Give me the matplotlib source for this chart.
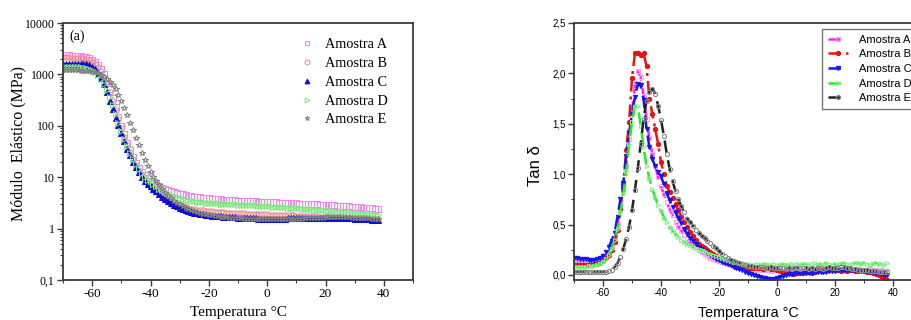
import numpy as np
import matplotlib
matplotlib.use("Agg")
import matplotlib.pyplot as plt
from matplotlib.ticker import FixedLocator, MultipleLocator, LogLocator, NullFormatter

# ---------------- data ----------------
temps = list(range(-70, 39))  # measured temperatures (°C), 1 °C step

# Left panel: elastic modulus (MPa)
mod_A = [2350, 2350, 2340, 2330, 2310, 2290, 2260, 2220,
         2150, 2050, 1900, 1720, 1500, 1250, 1000, 740, 520, 350, 230, 150, 100, 68, 47, 34, 25, 19, 15, 12.5,
         10.8, 9.5, 8.5, 7.8, 7.2, 6.7, 6.3, 5.9, 5.6, 5.35, 5.15, 4.95, 4.8, 4.65, 4.5, 4.4, 4.3, 4.2, 4.12,
         4.05, 3.98, 3.92, 3.87,
         3.82, 3.78, 3.74, 3.7, 3.67, 3.64, 3.61, 3.58, 3.55, 3.52,
         3.49, 3.46, 3.44, 3.41, 3.39, 3.37, 3.35, 3.33, 3.31, 3.29,
         3.27, 3.25, 3.23, 3.21, 3.19, 3.17, 3.15, 3.13, 3.11, 3.09,
         3.07, 3.05, 3.03, 3.01, 2.99, 2.97, 2.95, 2.93, 2.91, 2.89,
         2.87, 2.85, 2.83, 2.81, 2.79, 2.77, 2.74, 2.71, 2.68, 2.65,
         2.62, 2.59, 2.56, 2.53, 2.5, 2.48, 2.46, 2.44]
mod_B = [2150, 2150, 2140, 2130, 2110, 2090, 2060, 2020,
         1970, 1900, 1780, 1620, 1400, 1150, 900, 660, 460, 310, 205, 135, 90, 61, 43, 31, 23, 17.5, 13.5, 10.8,
         9.0, 7.7, 6.7, 5.9, 5.2, 4.7, 4.3, 3.9, 3.6, 3.35, 3.15, 2.98, 2.84, 2.72, 2.62, 2.53, 2.46, 2.4, 2.35,
         2.3, 2.26, 2.22, 2.19,
         2.16, 2.13, 2.11, 2.09, 2.07, 2.05, 2.03, 2.02, 2.0, 1.99,
         1.98, 1.97, 1.96, 1.95, 1.94, 1.93, 1.92, 1.91, 1.9, 1.89,
         1.88, 1.87, 1.86, 1.85, 1.84, 1.83, 1.82, 1.81, 1.8, 1.79,
         1.78, 1.77, 1.76, 1.75, 1.74, 1.73, 1.72, 1.71, 1.7, 1.69,
         1.68, 1.67, 1.66, 1.65, 1.64, 1.63, 1.62, 1.61, 1.6, 1.59,
         1.58, 1.57, 1.56, 1.55, 1.54, 1.53, 1.52, 1.51]
mod_C = [1600, 1610, 1620, 1620, 1620, 1610, 1600, 1590,
         1560, 1500, 1400, 1250, 1060, 860, 650, 460, 310, 215, 145, 102, 72, 50, 36, 27, 20, 15.5, 12.5, 10.2,
         8.6, 7.5, 6.6, 5.9, 5.3, 4.7, 4.2, 3.8, 3.4, 3.1, 2.9, 2.7, 2.55, 2.4, 2.3, 2.2, 2.12, 2.05, 2.0,
         1.95, 1.9, 1.86, 1.82,
         1.79, 1.76, 1.74, 1.72, 1.7, 1.68, 1.67, 1.66, 1.65, 1.64,
         1.63, 1.62, 1.61, 1.6, 1.59, 1.58, 1.57, 1.57, 1.56, 1.56,
         1.56, 1.56, 1.56, 1.57, 1.57, 1.57, 1.58, 1.58, 1.58, 1.59,
         1.59, 1.6, 1.6, 1.61, 1.61, 1.62, 1.62, 1.63, 1.63, 1.63,
         1.63, 1.63, 1.62, 1.62, 1.61, 1.61, 1.6, 1.59, 1.58, 1.57,
         1.56, 1.55, 1.54, 1.53, 1.52, 1.5, 1.48, 1.46]
mod_D = [1400, 1400, 1400, 1400, 1390, 1380, 1370, 1350,
         1320, 1270, 1200, 1100, 970, 820, 660, 500, 360, 250, 170, 115, 80, 56, 40, 30, 23, 18, 14.5, 12,
         10.2, 8.9, 8.3, 7.4, 6.6, 6.0, 5.6, 5.2, 4.85, 4.55, 4.3, 4.08, 3.9, 3.76, 3.64, 3.54, 3.45, 3.38, 3.32,
         3.27, 3.23, 3.2, 3.17,
         3.14, 3.11, 3.09, 3.06, 3.04, 3.02, 3.0, 2.98, 2.96, 2.94,
         2.92, 2.9, 2.88, 2.86, 2.84, 2.82, 2.8, 2.78, 2.76, 2.74,
         2.72, 2.69, 2.67, 2.64, 2.62, 2.59, 2.57, 2.54, 2.52, 2.49,
         2.47, 2.44, 2.42, 2.39, 2.37, 2.34, 2.32, 2.29, 2.27, 2.24,
         2.22, 2.19, 2.17, 2.14, 2.12, 2.09, 2.07, 2.04, 2.02, 2.0,
         1.98, 1.96, 1.94, 1.92, 1.9, 1.88, 1.86, 1.84]
mod_E = [1200, 1200, 1200, 1200, 1200, 1200, 1190, 1180,
         1170, 1150, 1130, 1100, 1060, 990, 910, 820, 720, 620, 510, 400, 300, 220, 160, 115, 82, 58, 42, 30,
         22, 16.5, 12.8, 10.2, 8.3, 6.9, 5.8, 5.0, 4.4, 3.9, 3.5, 3.2, 2.95, 2.75, 2.57, 2.42, 2.3, 2.2, 2.1,
         2.02, 1.95, 1.89, 1.84,
         1.8, 1.76, 1.73, 1.7, 1.68, 1.66, 1.64, 1.62, 1.6, 1.59,
         1.58, 1.57, 1.56, 1.55, 1.55, 1.54, 1.54, 1.53, 1.53, 1.53,
         1.53, 1.53, 1.53, 1.53, 1.54, 1.54, 1.54, 1.55, 1.55, 1.56,
         1.56, 1.57, 1.58, 1.59, 1.6, 1.61, 1.62, 1.63, 1.64, 1.65,
         1.66, 1.66, 1.67, 1.67, 1.67, 1.66, 1.66, 1.65, 1.64, 1.63,
         1.62, 1.61, 1.6, 1.59, 1.58, 1.57, 1.56, 1.55]

# Right panel: tan delta
tan_A = [0.13, 0.13, 0.12, 0.12, 0.12, 0.12, 0.12, 0.12,
         0.13, 0.14, 0.16, 0.19, 0.23, 0.29, 0.38, 0.5, 0.66, 0.85, 1.08, 1.35, 1.62, 1.87, 2.02, 1.96, 1.78, 1.55,
         1.36, 1.2, 1.08, 0.97, 0.88, 0.8, 0.72, 0.65, 0.59, 0.53, 0.48, 0.44, 0.4, 0.36, 0.33, 0.3, 0.28,
         0.25, 0.23, 0.21, 0.19, 0.17, 0.16, 0.15, 0.14, 0.13, 0.12, 0.11, 0.1, 0.09, 0.08, 0.08, 0.07, 0.07, 0.06,
         0.06, 0.06, 0.05, 0.05, 0.05, 0.05, 0.05, 0.04, 0.05, 0.05,
         0.05, 0.04, 0.05, 0.05, 0.04, 0.05, 0.05, 0.04, 0.05, 0.05,
         0.05, 0.04, 0.05, 0.06, 0.05, 0.05, 0.06, 0.05, 0.05, 0.06,
         0.06, 0.05, 0.05, 0.06, 0.06, 0.05, 0.06, 0.06, 0.05, 0.05,
         0.05, 0.06, 0.05, 0.05, 0.04, 0.05, 0.04, 0.04]
tan_B = [0.1, 0.1, 0.1, 0.1, 0.1, 0.1, 0.1, 0.11,
         0.11, 0.12, 0.14, 0.17, 0.2, 0.25, 0.33, 0.45, 0.65, 0.9, 1.24, 1.52, 1.95, 2.2, 2.2, 2.18, 2.2, 2.07,
         1.75, 1.6, 1.45, 1.3, 1.12, 1.0, 0.88, 0.82, 0.76, 0.7, 0.64, 0.58, 0.53, 0.48, 0.43, 0.39, 0.35,
         0.31, 0.29, 0.27, 0.25, 0.23, 0.21, 0.19, 0.17, 0.15, 0.13, 0.12, 0.11, 0.1, 0.09, 0.08, 0.08, 0.08, 0.07,
         0.07, 0.07, 0.07, 0.07, 0.06, 0.07, 0.07, 0.06, 0.06, 0.05,
         0.04, 0.03, 0.02, 0.02, 0.01, 0.01, 0.02, 0.02, 0.02, 0.03,
         0.03, 0.02, 0.03, 0.05, 0.05, 0.04, 0.05, 0.05, 0.06, 0.05,
         0.05, 0.04, 0.05, 0.04, 0.05, 0.05, 0.04, 0.04, 0.05, 0.04,
         0.03, 0.03, 0.02, 0.01, 0.0, -0.01, -0.03, -0.05]
tan_C = [0.17, 0.17, 0.16, 0.16, 0.16, 0.15, 0.15, 0.15,
         0.16, 0.17, 0.19, 0.23, 0.28, 0.34, 0.42, 0.58, 0.75, 0.91, 1.18, 1.41, 1.6, 1.77, 1.89, 1.88, 1.74, 1.45,
         1.27, 1.15, 1.08, 1.02, 0.98, 0.9, 0.81, 0.74, 0.67, 0.62, 0.57, 0.52, 0.46, 0.41, 0.37, 0.34, 0.31,
         0.28, 0.26, 0.24, 0.22, 0.2, 0.18, 0.16, 0.15, 0.13, 0.12, 0.11, 0.1, 0.08, 0.07, 0.06, 0.05, 0.03, 0.02,
         0.01, 0.0, -0.01, -0.02, -0.03, -0.03, -0.04, -0.04, -0.04, -0.03,
         -0.02, -0.01, 0.0, 0.01, 0.01, 0.02, 0.02, 0.02, 0.02, 0.02,
         0.02, 0.02, 0.03, 0.03, 0.03, 0.03, 0.03, 0.04, 0.04, 0.04,
         0.05, 0.05, 0.05, 0.05, 0.05, 0.05, 0.05, 0.04, 0.04, 0.04,
         0.04, 0.03, 0.03, 0.02, 0.02, 0.01, 0.0, 0.0]
tan_D = [0.08, 0.08, 0.08, 0.08, 0.08, 0.09, 0.09, 0.09,
         0.1, 0.11, 0.13, 0.16, 0.2, 0.26, 0.35, 0.46, 0.62, 0.8, 1.03, 1.3, 1.52, 1.67, 1.68, 1.48, 1.27, 1.08,
         0.96, 0.85, 0.77, 0.69, 0.64, 0.57, 0.53, 0.48, 0.44, 0.41, 0.38, 0.35, 0.33, 0.31, 0.3, 0.28, 0.27,
         0.26, 0.25, 0.24, 0.22, 0.21, 0.2, 0.19, 0.18, 0.17, 0.16, 0.15, 0.14, 0.13, 0.13, 0.12, 0.12, 0.11, 0.11,
         0.1, 0.1, 0.11, 0.1, 0.1, 0.11, 0.1, 0.1, 0.11, 0.1,
         0.1, 0.11, 0.1, 0.1, 0.11, 0.1, 0.11, 0.1, 0.11, 0.11,
         0.1, 0.11, 0.12, 0.1, 0.11, 0.1, 0.12, 0.11, 0.1, 0.11,
         0.1, 0.11, 0.12, 0.11, 0.1, 0.11, 0.12, 0.12, 0.11, 0.12,
         0.11, 0.1, 0.11, 0.12, 0.11, 0.11, 0.1, 0.12]
tan_E = [0.03, 0.03, 0.03, 0.03, 0.03, 0.03, 0.03, 0.03,
         0.03, 0.03, 0.03, 0.03, 0.04, 0.05, 0.08, 0.12, 0.18, 0.26, 0.36, 0.48, 0.64, 0.84, 1.06, 1.3, 1.55, 1.73,
         1.82, 1.85, 1.8, 1.68, 1.54, 1.38, 1.2, 1.05, 0.93, 0.83, 0.75, 0.68, 0.62, 0.56, 0.53, 0.49, 0.45,
         0.42, 0.39, 0.37, 0.34, 0.32, 0.29, 0.27, 0.24, 0.21, 0.19, 0.17, 0.15, 0.14, 0.13, 0.12, 0.11, 0.1, 0.09,
         0.09, 0.08, 0.08, 0.08, 0.08, 0.07, 0.07, 0.08, 0.07, 0.07,
         0.07, 0.07, 0.06, 0.07, 0.06, 0.07, 0.07, 0.06, 0.07, 0.07,
         0.06, 0.07, 0.06, 0.07, 0.07, 0.06, 0.07, 0.08, 0.07, 0.07,
         0.07, 0.08, 0.08, 0.07, 0.07, 0.06, 0.06, 0.05, 0.05, 0.05,
         0.05, 0.04, 0.04, 0.04, 0.03, 0.03, 0.03, 0.03]

labels = ["Amostra A", "Amostra B", "Amostra C", "Amostra D", "Amostra E"]
x_ticks = [-60, -40, -20, 0, 20, 40]
mod_ticks = [0.1, 1, 10, 100, 1000, 10000]
mod_ticklabels = ["0,1", "1", "10", "100", "1000", "10000"]
tan_ticks = [0.0, 0.5, 1.0, 1.5, 2.0, 2.5]
tan_ticklabels = ["0,0", "0,5", "1,0", "1,5", "2,0", "2,5"]

# ---------------- figure ----------------
W, H = 911, 320
fig = plt.figure(figsize=(W / 100, H / 100), dpi=100)
spine_col = "#3a3a3a"

# ---- left panel ----
axL = fig.add_axes([63 / W, 40 / H, 350 / W, 257 / H])
serif = ["Liberation Serif", "DejaVu Serif"]
left_styles = [
    dict(marker="s", mfc="none", mec="#ee88ee"),
    dict(marker="o", mfc="none", mec="#f08a8a"),
    dict(marker="^", mfc="#1010cc", mec="#1010cc"),
    dict(marker=">", mfc="none", mec="#7fe87f"),
    dict(marker="*", mfc="none", mec="#808080"),
]
for ys, lab, st in zip([mod_A, mod_B, mod_C, mod_D, mod_E], labels, left_styles):
    axL.plot(temps, ys, linestyle="none", markersize=3.8, markeredgewidth=0.75, label=lab, **st)
axL.set_yscale("log")
axL.set_xlim(-70, 50)
axL.set_ylim(0.1, 10000)
axL.yaxis.set_major_locator(FixedLocator(mod_ticks))
axL.set_yticklabels(mod_ticklabels, fontfamily=serif, fontsize=8.5)
axL.yaxis.set_minor_locator(LogLocator(base=10, subs=np.arange(2, 10)))
axL.yaxis.set_minor_formatter(NullFormatter())
axL.xaxis.set_major_locator(FixedLocator(x_ticks))
axL.set_xticklabels([str(v) for v in x_ticks], fontfamily=serif, fontsize=9.5)
axL.xaxis.set_minor_locator(MultipleLocator(10))
axL.tick_params(which="major", direction="out", length=4, width=1, color=spine_col, pad=2)
axL.tick_params(which="minor", direction="out", length=2.2, width=0.8, color=spine_col)
for s in axL.spines.values():
    s.set_color(spine_col)
    s.set_linewidth(1.3)
axL.set_xlabel("Temperatura °C", fontfamily=serif, fontsize=11)
axL.xaxis.set_label_coords(0.5, -0.1)
axL.set_ylabel("Módulo  Elástico (MPa)", fontfamily=serif, fontsize=11.5)
axL.yaxis.set_label_coords(-0.106, 0.53)
axL.text(-67.8, 5400, "(a)", fontfamily=serif, fontsize=10, va="center", ha="left")
legL = axL.legend(loc="upper left", bbox_to_anchor=(0.676, 0.94), frameon=False,
                  prop=dict(family=serif, size=10.3), handlelength=1.0, handletextpad=0.8,
                  labelspacing=0.4, borderpad=0, borderaxespad=0, numpoints=1, markerscale=0.9)

# ---- right panel ----
axR = fig.add_axes([574 / W, 40 / H, 348 / W, 257 / H])
sans = ["Liberation Sans", "DejaVu Sans"]
right_styles = [
    dict(color="#ff22ff", ls=(0, (5, 3)), marker="s", mfc="none", mec="#f5a0f5"),
    dict(color="#ee1111", ls=(0, (5, 2, 1.2, 2)), marker="o", mfc="#ee1111", mec="#ee1111"),
    dict(color="#1515ee", ls=(0, (5, 3)), marker="v", mfc="#1515ee", mec="#1515ee"),
    dict(color="#22ee22", ls=(0, (5, 3)), marker=">", mfc="none", mec="#88f088"),
    dict(color="#222222", ls=(0, (5, 3)), marker="o", mfc="none", mec="#8a8a8a"),
]
for ys, lab, st in zip([tan_A, tan_B, tan_C, tan_D, tan_E], labels, right_styles):
    axR.plot(temps, ys, lw=1.8, markersize=3.0, markeredgewidth=0.8, label=lab, **st)
axR.set_xlim(-70, 50)
axR.set_ylim(-0.05, 2.5)
axR.yaxis.set_major_locator(FixedLocator(tan_ticks))
axR.set_yticklabels(tan_ticklabels, fontfamily=sans, fontsize=7)
axR.yaxis.set_minor_locator(MultipleLocator(0.25))
axR.xaxis.set_major_locator(FixedLocator(x_ticks))
axR.set_xticklabels([str(v) for v in x_ticks], fontfamily=sans, fontsize=7)
axR.xaxis.set_minor_locator(MultipleLocator(10))
axR.tick_params(which="major", direction="out", length=4, width=1, color=spine_col, pad=2)
axR.tick_params(which="minor", direction="out", length=2.2, width=0.8, color=spine_col)
for s in axR.spines.values():
    s.set_color(spine_col)
    s.set_linewidth(1.3)
axR.set_xlabel("Temperatura °C", fontfamily=sans, fontsize=10.3)
axR.xaxis.set_label_coords(0.5, -0.1)
axR.set_ylabel("Tan δ", fontfamily=sans, fontsize=12)
axR.yaxis.set_label_coords(-0.089, 0.447)
legR = axR.legend(loc="upper left", bbox_to_anchor=(0.7126, 0.9767), frameon=True, fancybox=False,
                  edgecolor="#777777", framealpha=1, prop=dict(family=sans, size=8),
                  handlelength=1.8, handletextpad=1.0, labelspacing=0.42, borderpad=0.5,
                  borderaxespad=0, numpoints=1)
legR.get_frame().set_linewidth(1.0)

fig.savefig("out.png", dpi=100)
